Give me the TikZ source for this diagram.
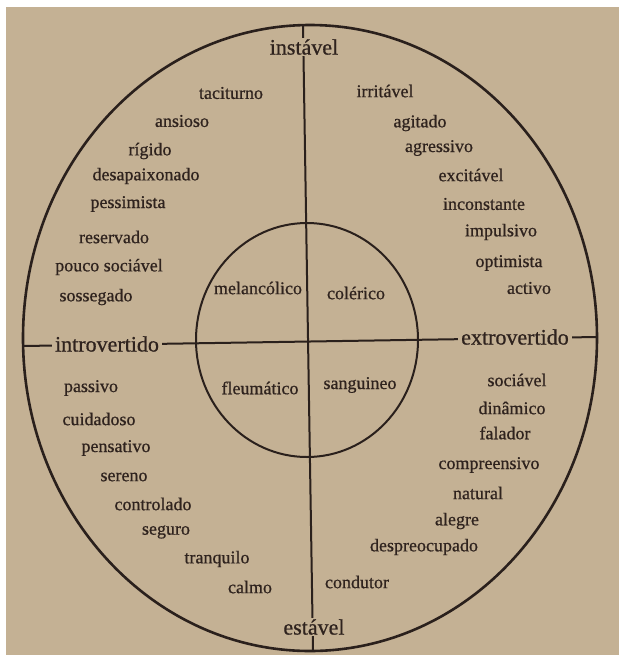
\documentclass[tikz,border=0pt]{standalone}
\usepackage{fontspec}
\setmainfont{Liberation Serif}
\newfontfamily\inkfont{Liberation Serif}[FakeBold=0.7, AutoFakeBold=0.7]
\usetikzlibrary{positioning}
\usepackage{xcolor}
\definecolor{Paper}{HTML}{C4B194}
\definecolor{PaperEdge}{HTML}{FFFFFF}
\definecolor{Ink}{HTML}{2F231E}
\definecolor{LineInk}{HTML}{2A201C}
\tikzset{
    % Text styles
    trait/.style={
        font=\inkfont\bfseries\fontsize{9}{10}\selectfont,
        text=Ink,
        inner sep=0pt
    },
    temper/.style={
        font=\inkfont\bfseries\fontsize{9}{10}\selectfont,
        text=Ink,
        inner sep=0pt
    },
    axislabel/.style={
        font=\inkfont\bfseries\fontsize{11}{12}\selectfont,
        text=Ink,
        fill=Paper,
        inner xsep=1.5pt,
        inner ysep=0.5pt
    },
    % Line styles
    ring/.style={
        draw=LineInk,
        line width=1.3pt
    },
    axis/.style={
        draw=LineInk,
        line width=1pt
    }
}

\begin{document}
\begin{tikzpicture}[x=0.5pt, y=-0.5pt]
    \useasboundingbox (0,0) rectangle (619,655);
    \fill[PaperEdge] (0,0) rectangle (619,655);
    \fill[Paper] (6,7) rectangle (619,655);

    % circles
    \draw[ring] (310,338) ellipse [x radius=143.5pt, y radius=156.5pt];
    \draw[ring, line width=1pt] (307,340) ellipse [x radius=55.5pt, y radius=58.5pt];

    % axes
    \coordinate (top) at (303,25);
    \coordinate (bot) at (313,651);
    \coordinate (lft) at (23,346);
    \coordinate (rgt) at (597,337);
    \draw[axis] (top) -- (bot);
    \draw[axis] (lft) -- (rgt);

    \node[axislabel] (unstable) at (304,47) {instável};
    \node[axislabel] (stable) at (314,627) {estável};
    \node[axislabel] (intro) at (107,344) {introvertido};
    \node[axislabel] (extro) at (515,337) {extrovertido};

    % temperaments
    \node[temper] (melan) at (258,288) {melancólico};
    \node[temper] (coler) at (356,293) {colérico};
    \node[temper] (fleum) at (260,388) {fleumático};
    \node[temper] (sangu) at (360,385) {sanguineo};

    % unstable - introvert
    \node[trait] (tacit) at (231,93) {taciturno};
    \node[trait] (ansio) at (182,121) {ansioso};
    \node[trait] (rigid) at (150,151) {rígido};
    \node[trait] (desap) at (146,176) {desapaixonado};
    \node[trait] (pessi) at (128,204) {pessimista};
    \node[trait] (reser) at (114,237) {reservado};
    \node[trait] (pouco) at (109,267) {pouco sociável};
    \node[trait] (sosse) at (96,297) {sossegado};

    % unstable - extrovert
    \node[trait] (irrit) at (385,91) {irritável};
    \node[trait] (agita) at (420,123) {agitado};
    \node[trait] (agres) at (439,148) {agressivo};
    \node[trait] (excit) at (471,175) {excitável};
    \node[trait] (incon) at (484,204) {inconstante};
    \node[trait] (impul) at (501,232) {impulsivo};
    \node[trait] (optim) at (509,263) {optimista};
    \node[trait] (activ) at (529,288) {activo};

    % stable - introvert
    \node[trait] (passi) at (91,388) {passivo};
    \node[trait] (cuida) at (99,419) {cuidadoso};
    \node[trait] (pensa) at (116,448) {pensativo};
    \node[trait] (seren) at (124,477) {sereno};
    \node[trait] (contr) at (153,504) {controlado};
    \node[trait] (segur) at (166,532) {seguro};
    \node[trait] (tranq) at (217,559) {tranquilo};
    \node[trait] (calmo) at (250,587) {calmo};

    % stable - extrovert
    \node[trait] (socia) at (517,380) {sociável};
    \node[trait] (dinam) at (512,408) {dinâmico};
    \node[trait] (falad) at (505,433) {falador};
    \node[trait] (compr) at (489,465) {compreensivo};
    \node[trait] (natur) at (478,493) {natural};
    \node[trait] (alegr) at (457,521) {alegre};
    \node[trait] (despr) at (424,547) {despreocupado};
    \node[trait] (condu) at (357,582) {condutor};
\end{tikzpicture}
\end{document}
